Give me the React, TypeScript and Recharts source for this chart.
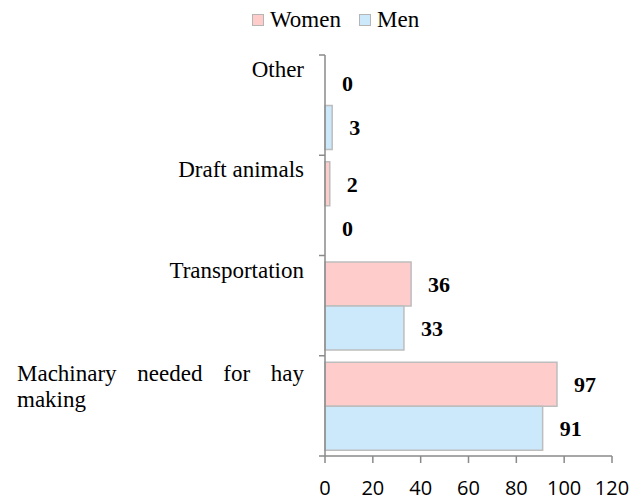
import { BarChart, Bar, XAxis, YAxis, Legend, LabelList, Rectangle } from "recharts";

const categories = ["Other", "Draft animals", "Transportation", "Machinary needed for hay making"];
const labelLines = [["Other"], ["Draft animals"], ["Transportation"], ["Machinary needed for hay", "making"]];
const women = [0, 2, 36, 97];
const men = [3, 0, 33, 91];
const xTicks = [0, 20, 40, 60, 80, 100, 120];

const data = categories.map((c, i) => ({ category: c, women: women[i], men: men[i] }));

const W = 642;
const H = 500;
const TOP = 55;
const X_AXIS_H = 44;
const AXIS_X = 325;
const PLOT_H = H - TOP - X_AXIS_H;
const LABEL_LEFT = 17;
const LABEL_RIGHT = 304;
const axisColor = "#8a8a8a";
const serif = "Liberation Serif, Times New Roman, serif";

function CategoryTick(props: any) {
  const { y, payload } = props;
  const idx = categories.indexOf(payload.value);
  const lines = labelLines[idx] || [payload.value];
  const band = PLOT_H / categories.length;
  const top = y - band / 2;
  const last = idx === categories.length - 1;
  return (
    <g>
      <line x1={AXIS_X - 6} x2={AXIS_X} y1={top} y2={top} stroke={axisColor} strokeWidth={1.5} />
      {last && <line x1={AXIS_X - 6} x2={AXIS_X} y1={top + band} y2={top + band} stroke={axisColor} strokeWidth={1.5} />}
      {lines.length === 1 ? (
        <text x={LABEL_RIGHT} y={y - 28} textAnchor="end" fontFamily={serif} fontSize={23} fill="#000">
          {lines[0]}
        </text>
      ) : (
        lines.map((l, i) => {
          const isLast = i === lines.length - 1;
          return (
            <text
              key={i}
              x={isLast ? LABEL_LEFT : LABEL_RIGHT}
              y={y - 25 + i * 26}
              textAnchor={isLast ? "start" : "end"}
              fontFamily={serif}
              fontSize={23}
              fill="#000"
              style={{ wordSpacing: isLast ? 0 : 15 }}
            >
              {l}
            </text>
          );
        })
      )}
    </g>
  );
}

// zero-valued bars get a hairline rect so their label still renders, but nothing is drawn
function BarShape(props: any) {
  if (!props.width || props.width < 0.5) return null;
  return <Rectangle {...props} />;
}

function LegendBox() {
  const item = (label: string, color: string) => (
    <span style={{ display: "inline-flex", alignItems: "center", marginRight: 18 }}>
      <span style={{ width: 10, height: 10, background: color, border: "1px solid #b5b5b5", marginRight: 6 }} />
      <span>{label}</span>
    </span>
  );
  return (
    <div style={{ height: TOP, paddingLeft: 252, paddingTop: 6, boxSizing: "border-box", fontFamily: serif, fontSize: 23, lineHeight: "26px", color: "#000" }}>
      {item("Women", "#ffcccc")}
      {item("Men", "#cce9fc")}
    </div>
  );
}

export default function App() {
  return (
    <div style={{ position: "absolute", left: 0, top: 0, background: "#fff" }}>
      <BarChart
        layout="vertical"
        width={W}
        height={H}
        data={data}
        margin={{ top: 0, right: 30, bottom: 0, left: 0 }}
        barCategoryGap="6.5%"
        barGap={0}
      >
        <Legend verticalAlign="top" align="left" wrapperStyle={{ left: 0, top: 0, width: W }} content={() => <LegendBox />} />
        <XAxis
          type="number"
          domain={[0, 120]}
          ticks={xTicks}
          interval={0}
          height={X_AXIS_H}
          axisLine={{ stroke: axisColor, strokeWidth: 1.5 }}
          tickLine={{ stroke: axisColor, strokeWidth: 1.5 }}
          tickSize={7}
          tickMargin={18}
          tick={{ fontFamily: "Open Sans, sans-serif", fontSize: 20, fill: "#000" }}
        />
        <YAxis
          type="category"
          dataKey="category"
          width={AXIS_X}
          interval={0}
          axisLine={{ stroke: axisColor, strokeWidth: 1.5 }}
          tickLine={false}
          tick={(p: any) => <CategoryTick {...p} />}
        />
        <Bar dataKey="women" name="Women" fill="#ffcccc" stroke="#bdbdbd" strokeWidth={1.5} minPointSize={0.01} shape={(p: any) => <BarShape {...p} />} isAnimationActive={false}>
          <LabelList dataKey="women" position="right" offset={17} fill="#000" fontFamily={serif} fontSize={22} fontWeight="bold" />
        </Bar>
        <Bar dataKey="men" name="Men" fill="#cce9fc" stroke="#bdbdbd" strokeWidth={1.5} minPointSize={0.01} shape={(p: any) => <BarShape {...p} />} isAnimationActive={false}>
          <LabelList dataKey="men" position="right" offset={17} fill="#000" fontFamily={serif} fontSize={22} fontWeight="bold" />
        </Bar>
      </BarChart>
    </div>
  );
}
